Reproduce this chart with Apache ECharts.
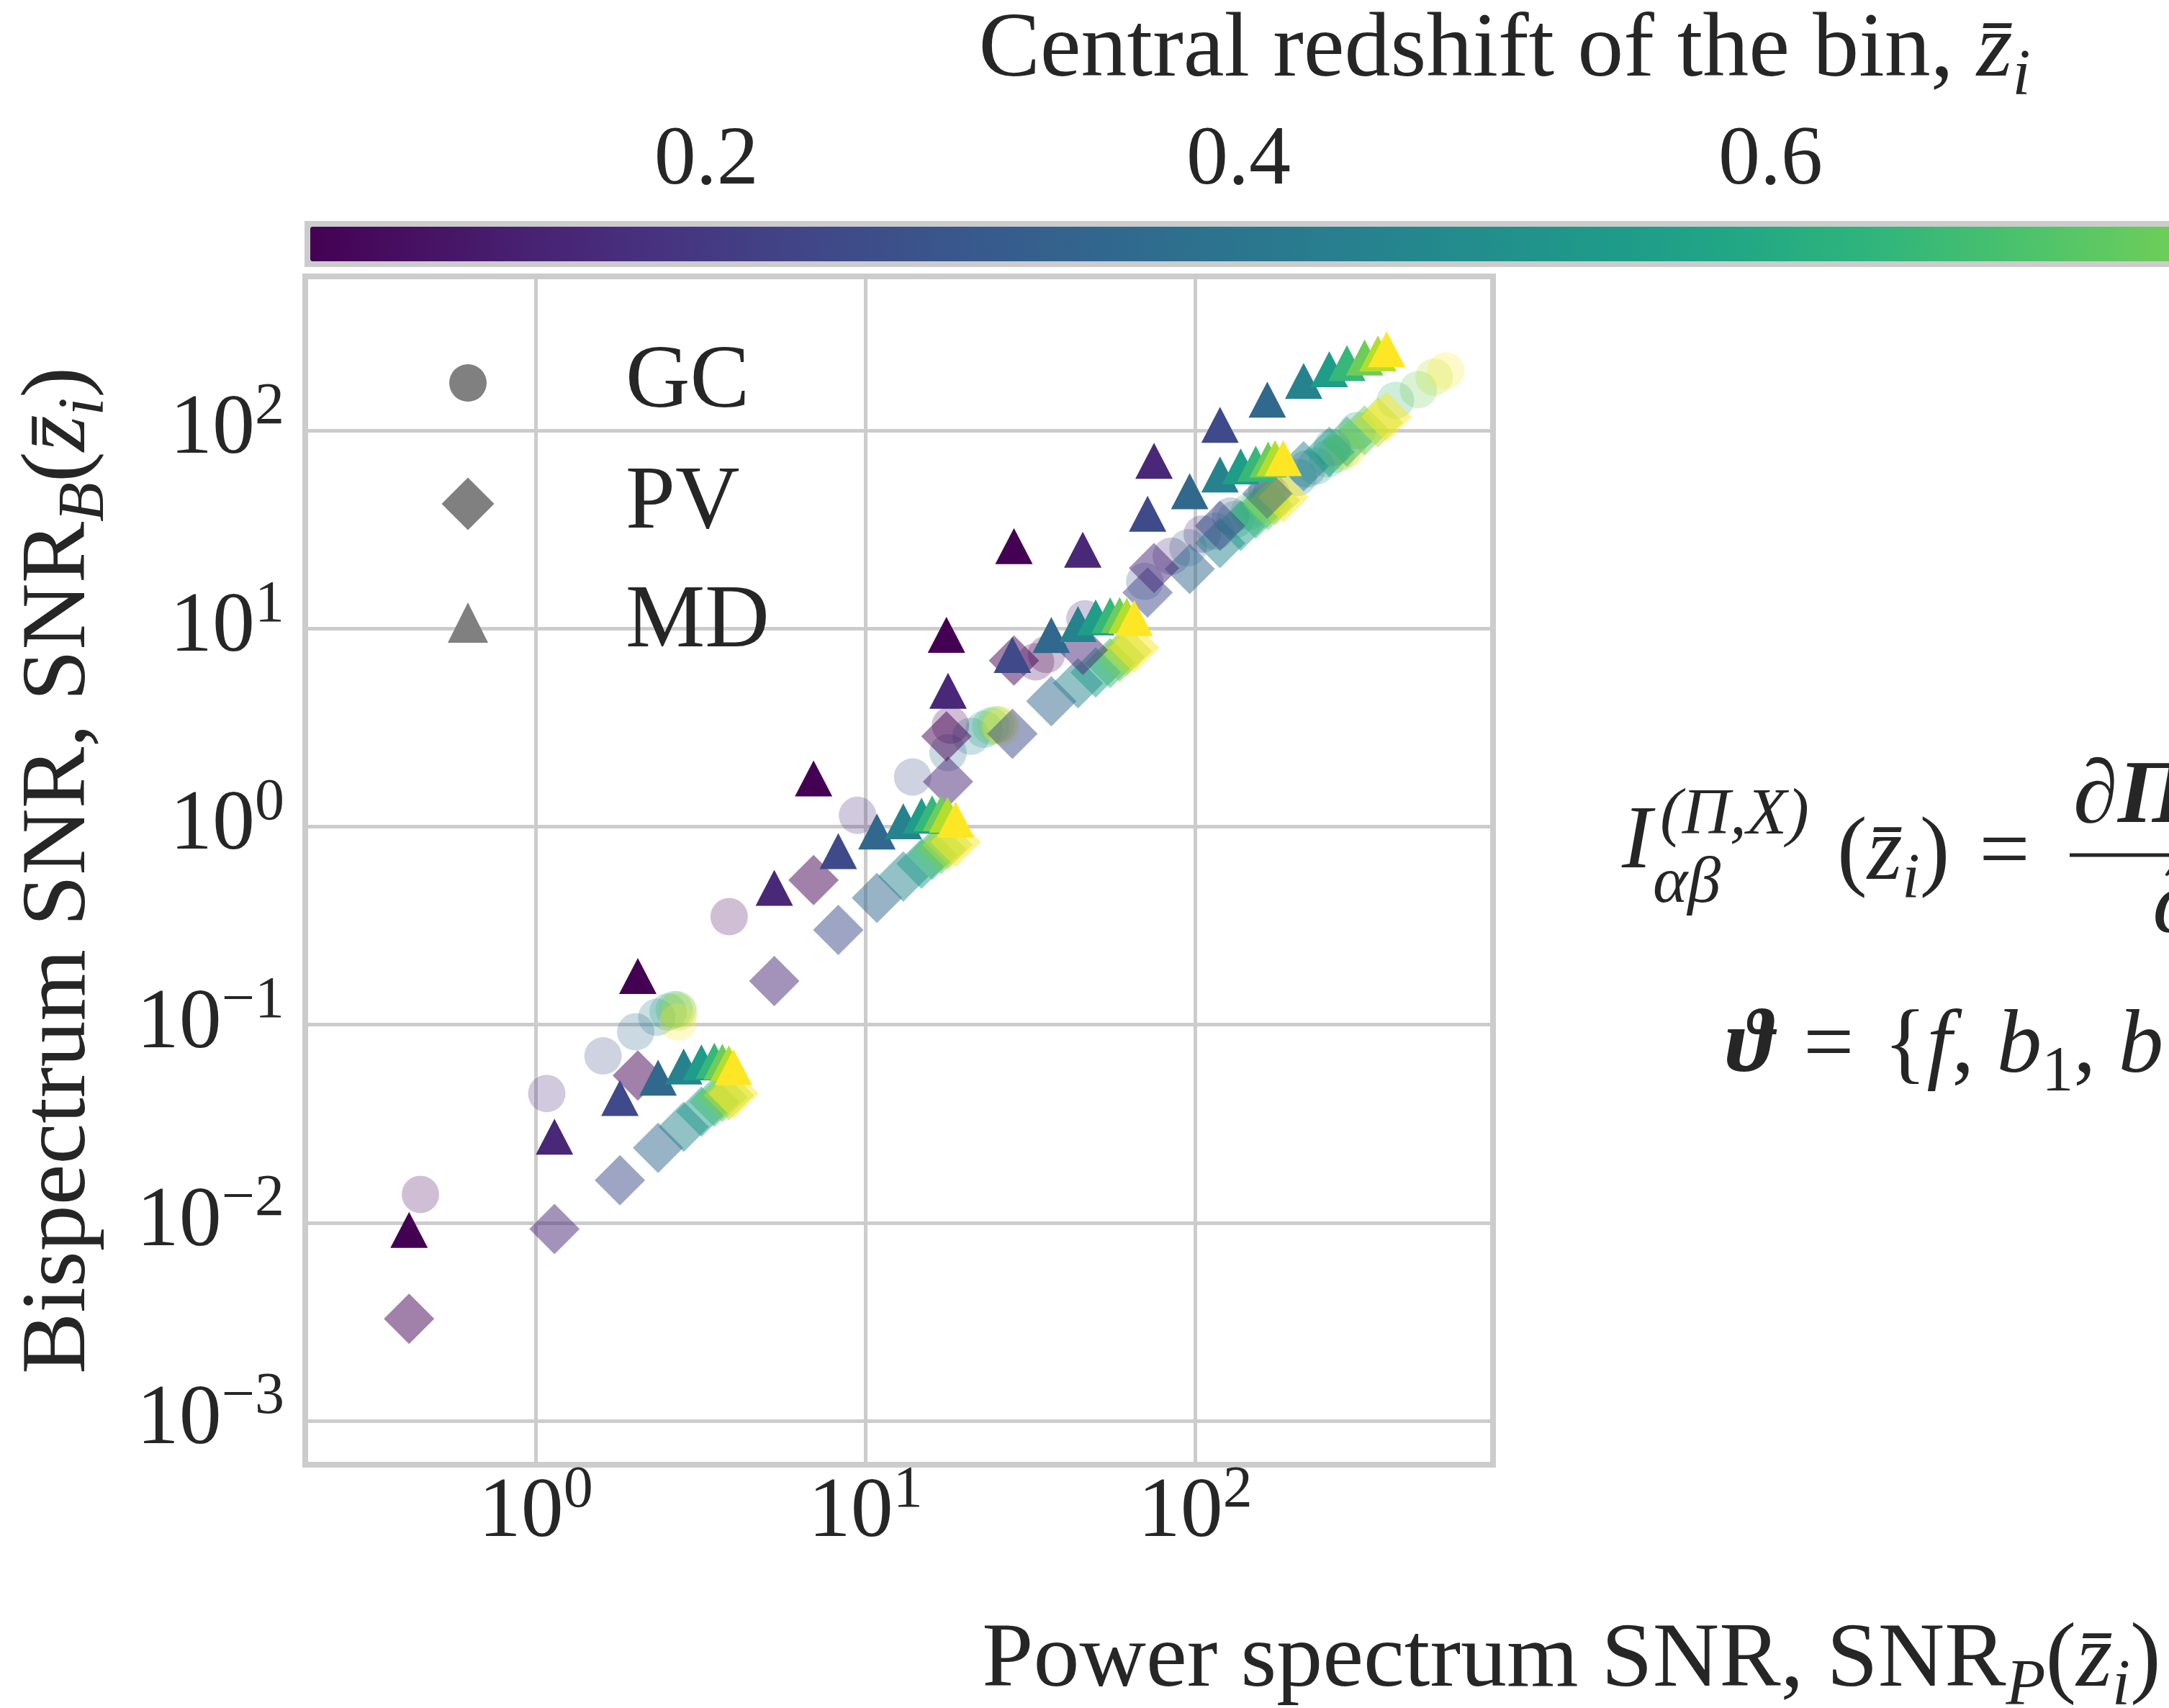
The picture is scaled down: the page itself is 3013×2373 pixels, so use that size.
<!DOCTYPE html>
<html>
<head>
<meta charset="utf-8">
<script src="https://cdn.jsdelivr.net/npm/echarts@6/dist/echarts.min.js"></script>
<style>html,body{margin:0;padding:0;background:#fff;}#chart{width:3013px;height:2373px;}</style>
</head>
<body>
<div id="chart"></div>
<script>
// ---------------- data ----------------
const zBins = [0.05, 0.15, 0.25, 0.35, 0.45, 0.55, 0.65, 0.75, 0.85, 0.95];

// power-spectrum SNR shared by PV and MD points, per survey
const pX_A = [0.413, 1.14, 1.80, 2.35, 2.81, 3.18, 3.48, 3.68, 3.85, 3.98];
const pX_B = [2.04, 5.29, 8.27, 10.83, 13.02, 14.79, 15.93, 16.96, 17.74, 18.77];
const pX_C = [6.96, 17.8, 27.9, 36.6, 44.1, 49.9, 55.2, 59.0, 62.0, 65.3];
const pX_D = [17.6, 45.6, 71.7, 96.2, 118.9, 137.4, 152.6, 166.3, 174.6, 184.9];
const pX_E = [28.2, 75.0, 118.9, 165.4, 213.2, 255.0, 288.4, 326.3, 358.0, 380.5];

// MD bispectrum SNR
const mdY_A = [0.0092, 0.0272, 0.0426, 0.054, 0.0615, 0.0645, 0.0658, 0.065, 0.0638, 0.0611];
const mdY_B = [0.176, 0.491, 0.752, 0.945, 1.065, 1.135, 1.168, 1.168, 1.147, 1.085];
const mdY_C = [1.75, 4.85, 7.35, 9.27, 10.55, 11.4, 11.65, 11.7, 11.6, 11.3];
const mdY_D = [9.3, 25.0, 38.0, 49.4, 59.9, 65.9, 68.0, 71.4, 72.6, 72.6];
const mdY_E = [26.1, 70.3, 106.7, 143.2, 178.0, 203.7, 219.0, 233.7, 245.0, 257.0];

// PV bispectrum SNR
const pvY_A = [0.00327, 0.0093, 0.0164, 0.0239, 0.0305, 0.0364, 0.0408, 0.0431, 0.0440, 0.0448];
const pvY_B = [0.0554, 0.166, 0.301, 0.437, 0.56, 0.65, 0.72, 0.77, 0.81, 0.835];
const pvY_C = [0.537, 1.685, 2.94, 4.3, 5.3, 6.0, 6.7, 7.2, 7.7, 8.0];
const pvY_D = [2.86, 7.8, 15.2, 20.0, 27.0, 33.0, 38.0, 42.0, 44.5, 46.0];
const pvY_E = [6.9, 20.2, 33.0, 48.0, 66.0, 78.0, 88.0, 100.0, 110.0, 117.0];

// GC points (own power-spectrum SNR)
const gcX_A = [0.447, 1.08, 1.60, 2.01, 2.33, 2.52, 2.63, 2.69, 2.72, 2.70];
const gcY_A = [0.0139, 0.0449, 0.0695, 0.092, 0.109, 0.116, 0.119, 0.119, 0.116, 0.103];
const gcX_B = [3.86, 9.46, 13.9, 17.8, 20.9, 22.9, 24.0, 24.8, 25.4, 25.8];
const gcY_B = [0.351, 1.14, 1.78, 2.36, 2.86, 3.10, 3.22, 3.27, 3.27, 3.18];
const gcX_C = [18.1, 46.3, 70.3, 95.1, 115, 132, 146, 156, 164, 170];
const gcY_C = [3.25, 11.2, 17.3, 25.6, 31.0, 35.5, 39.0, 41.5, 43.5, 44.5];
const gcX_D = [32.8, 84.6, 128, 170, 205, 232, 252, 268, 280, 290];
const gcY_D = [6.8, 23.2, 37, 48, 58, 66, 72, 76, 79, 81];
const gcX_E = [35.4, 105, 165, 218, 260, 310, 405, 475, 530, 575];
const gcY_E = [7.4, 30, 50, 64, 82, 100, 142, 161, 186, 200];

// tick labels
const xTickExps = [0, 1, 2];
const yTickExps = [-3, -2, -1, 0, 1, 2];
const cbarTicks = [0.2, 0.4, 0.6];

// ---------------- style ----------------
const FONT = 'Liberation Serif';
const TXT = '#262626';
const GRIDC = '#cccccc';
const viridis = ['#440154','#471365','#482475','#463480','#414487','#3b528b','#355f8d','#2f6c8e',
  '#2a788e','#25848e','#21918c','#1e9c89','#22a884','#2fb47c','#44bf70','#5ec962','#7ad151',
  '#9bd93c','#bddf26','#dfe318','#fde725'];

function mathRich(fs) {
  const s = Math.round(fs * 0.7);
  const base = {fontFamily: FONT, color: TXT, fill: TXT};
  return {
    n: Object.assign({fontSize: fs, lineHeight: fs}, base),
    it: Object.assign({fontSize: fs, lineHeight: fs, fontStyle: 'italic'}, base),
    sub: Object.assign({fontSize: s, lineHeight: s, fontStyle: 'italic', padding: [Math.round(fs * 0.56), 0, 0, 0]}, base),
    subr: Object.assign({fontSize: s, lineHeight: s, padding: [Math.round(fs * 0.56), 0, 0, 0]}, base),
    sup: Object.assign({fontSize: s, lineHeight: s, padding: [0, 0, Math.round(fs * 0.5), 0]}, base),
    b: Object.assign({fontSize: fs, lineHeight: fs, fontWeight: 'bold'}, base),
    bi: Object.assign({fontSize: fs, lineHeight: fs, fontWeight: 'bold', fontStyle: 'italic'}, base),
    eq: Object.assign({fontSize: fs, lineHeight: fs, padding: [0, Math.round(fs * 0.33), 0, Math.round(fs * 0.33)]}, base)
  };
}

const tickRich = {
  b: {fontSize: 118, lineHeight: 118, fontFamily: FONT, color: TXT},
  s: {fontSize: 82, lineHeight: 82, fontFamily: FONT, color: TXT, padding: [0, 0, 64, 0]}
};
function logFmt(allowed) {
  return function (v) {
    const l = Math.log10(v);
    const e = Math.round(l);
    if (Math.abs(l - e) > 1e-6 || allowed.indexOf(e) < 0) return '';
    return '{b|10}{s|' + (e < 0 ? '\u2212' + (-e) : e) + '}';
  };
}

const pts = (xs, ys) => xs.map((x, i) => [x, ys[i], zBins[i]]);
const gcData = [].concat(pts(gcX_A, gcY_A), pts(gcX_B, gcY_B), pts(gcX_C, gcY_C), pts(gcX_D, gcY_D), pts(gcX_E, gcY_E));
const pvData = [].concat(pts(pX_A, pvY_A), pts(pX_B, pvY_B), pts(pX_C, pvY_C), pts(pX_D, pvY_D), pts(pX_E, pvY_E));
const mdData = [].concat(pts(pX_A, mdY_A), pts(pX_B, mdY_B), pts(pX_C, mdY_C), pts(pX_D, mdY_D), pts(pX_E, mdY_E));

// layout
const W = 3013;
const G = {left: 424, top: 384, width: 1650, height: 1651};
const CB = {left: 427, top: 311, len: 3326, thick: 48, zmin: 0.05, zmax: 0.95};
const cbUnit = CB.len / (CB.zmax - CB.zmin);
const cbAxisLeft = CB.left - CB.zmin * cbUnit;

function legendFor(name, icon, w, h, cy) {
  const th = 124;
  const H = Math.max(h, th);
  return {
    data: [{name: name, icon: icon, itemStyle: {color: '#808080', opacity: 1, borderWidth: 0}}],
    left: 650 - w / 2, top: cy - H / 2, itemWidth: w, itemHeight: h, padding: 0,
    selectedMode: false,
    textStyle: {fontFamily: FONT, fontSize: 124, lineHeight: th, color: TXT,
      padding: [0, 0, 0, 869 - (650 + w / 2) - 5]}
  };
}

const chart = echarts.init(document.getElementById('chart'), null, {renderer: 'canvas'});
const option = {
  animation: false,
  backgroundColor: '#ffffff',
  grid: [
    Object.assign({show: true, borderColor: GRIDC, borderWidth: 8, backgroundColor: 'transparent',
      outerBoundsMode: 'none', containLabel: false}, G),
    {left: cbAxisLeft, width: cbUnit, top: CB.top, height: CB.thick, show: false,
      outerBoundsMode: 'none', containLabel: false}
  ],
  xAxis: [
    {
      type: 'log', logBase: 10, gridIndex: 0, min: 0.2, max: 800,
      axisLine: {show: false}, axisTick: {show: false},
      splitLine: {show: true, lineStyle: {color: GRIDC, width: 5}},
      axisLabel: {formatter: logFmt(xTickExps), rich: tickRich, margin: 9, fontFamily: FONT}
    },
    {
      type: 'value', gridIndex: 1, min: 0, max: 1, interval: 0.2, position: 'top',
      axisLine: {show: false}, axisTick: {show: false}, splitLine: {show: false},
      axisLabel: {
        formatter: function (v) {
          const r = Math.round(v * 10) / 10;
          return cbarTicks.indexOf(r) >= 0 ? r.toFixed(1) : '';
        },
        fontFamily: FONT, fontSize: 116, lineHeight: 116, color: TXT, margin: 28
      },
      name: '{n|Central redshift of the bin, }{it|z\u0304}{sub|i}',
      nameLocation: 'middle', nameGap: 176,
      nameTextStyle: {rich: mathRich(128)}
    }
  ],
  yAxis: [
    {
      type: 'log', logBase: 10, gridIndex: 0, min: 0.0006, max: 600,
      axisLine: {show: false}, axisTick: {show: false},
      splitLine: {show: true, lineStyle: {color: GRIDC, width: 5}},
      axisLabel: {formatter: logFmt(yTickExps), rich: tickRich, margin: 29, fontFamily: FONT},
      name: '{n|Bispectrum SNR, SNR}{sub|B}{n|(}{it|z\u0304}{sub|i}{n|)}',
      nameLocation: 'middle', nameGap: 277, nameRotate: 90,
      nameTextStyle: {rich: mathRich(128)}
    },
    {type: 'value', gridIndex: 1, min: 0, max: 1, show: false}
  ],
  visualMap: {
    type: 'continuous', show: true, min: CB.zmin, max: CB.zmax, dimension: 2, seriesIndex: [0, 1, 2],
    orient: 'horizontal', left: CB.left - 4, top: CB.top - 4,
    itemWidth: CB.thick, itemHeight: CB.len,
    calculable: false, realtime: false, text: null, hoverLink: false,
    padding: 4, borderWidth: 8, borderColor: GRIDC, backgroundColor: 'transparent',
    inRange: {color: viridis}
  },
  legend: [
    legendFor('GC', 'circle', 52, 52, 532),
    legendFor('PV', 'diamond', 73, 73, 700),
    legendFor('MD', 'triangle', 56, 56, 865)
  ],
  series: [
    {name: 'GC', type: 'scatter', xAxisIndex: 0, yAxisIndex: 0, symbol: 'circle', symbolSize: 52,
      itemStyle: {opacity: 0.25}, emphasis: {disabled: true}, data: gcData},
    {name: 'PV', type: 'scatter', xAxisIndex: 0, yAxisIndex: 0, symbol: 'diamond', symbolSize: 70,
      itemStyle: {opacity: 0.5}, emphasis: {disabled: true}, data: pvData},
    {name: 'MD', type: 'scatter', xAxisIndex: 0, yAxisIndex: 0, symbol: 'triangle', symbolSize: [52, 50],
      itemStyle: {opacity: 1}, emphasis: {disabled: true}, data: mdData}
  ],
  graphic: (function () {
    const R = mathRich(128);
    const E = mathRich(125);
    const txt = (x, y, text, rich, extra) => ({
      type: 'text', x: x, y: y, silent: true,
      style: Object.assign({text: text, rich: rich, fill: TXT, fontFamily: FONT, fontSize: 125,
        align: 'left', textAlign: 'left', verticalAlign: 'middle', textVerticalAlign: 'middle'}, extra || {})
    });
    return [
      txt(2183, 2308, '{n|Power spectrum SNR, SNR}{sub|P}{n|(}{it|z\u0304}{sub|i}{n|)}', R,
        {align: 'center', textAlign: 'center'}),
      txt(2253, 1172, '{it|I}', E),
      txt(2306, 1134, '{it|(\u03a0,X)}', mathRich(92)),
      txt(2296, 1229, '{it|\u03b1\u03b2}', mathRich(92)),
      txt(2552, 1188, '{n|(}{it|z\u0304}{sub|i}{n|)}{eq|=}', E),
      {type: 'line', silent: true, shape: {x1: 2875, y1: 1188, x2: 3200, y2: 1188},
        style: {stroke: TXT, lineWidth: 5}},
      txt(2880, 1110, '{b|\u2202}{bi|\u03a0}', E),
      txt(2990, 1262, '{b|\u2202}', E),
      txt(2398, 1456, '{bi|\u03d1}{eq|=}{n|{}{it|f}{n|, }{it|b}{subr|1}{n|, }{it|b}', E)
    ];
  })()
};
chart.setOption(option);
</script>
</body>
</html>
